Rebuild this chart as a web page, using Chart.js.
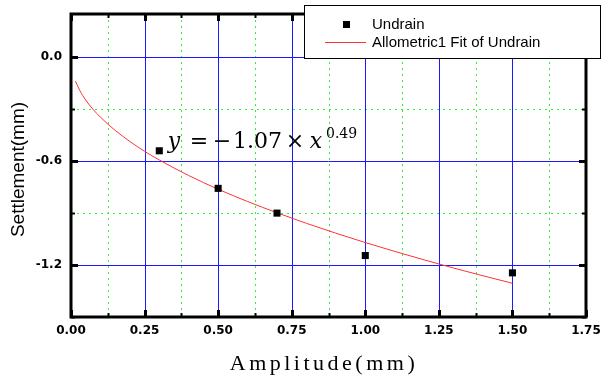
<!DOCTYPE html>
<html>
<head>
<meta charset="utf-8">
<script src="https://cdn.jsdelivr.net/npm/chart.js@4/dist/chart.umd.min.js"></script>
<style>
  html, body { margin: 0; padding: 0; background: #fff; }
  #wrap { position: relative; width: 601px; height: 376px; }
</style>
</head>
<body>
<div id="wrap"><canvas id="settlementChart" width="601" height="376"></canvas></div>
<script>
// measured points
const amplitude = [0.3, 0.5, 0.7, 1.0, 1.5];
const settlement = [-0.54, -0.757, -0.90, -1.145, -1.245];

// allometric fit curve y = -1.07 * x^0.49
const fitX = [0.015, 0.03, 0.05, 0.075, 0.1, 0.15, 0.2, 0.25, 0.3, 0.4, 0.5, 0.6, 0.7, 0.8, 0.9, 1.0, 1.1, 1.2, 1.3, 1.4, 1.5];
const fitY = [-0.137, -0.192, -0.247, -0.301, -0.346, -0.422, -0.486, -0.543, -0.593, -0.683, -0.762, -0.833, -0.898, -0.959, -1.016, -1.07, -1.121, -1.170, -1.217, -1.262, -1.305];

// axis ticks (minor + major)
const xTicks = [0, 0.125, 0.25, 0.375, 0.5, 0.625, 0.75, 0.875, 1.0, 1.125, 1.25, 1.375, 1.5, 1.625, 1.75];
const xMajor = [0, 0.25, 0.5, 0.75, 1.0, 1.25, 1.5, 1.75];
const yTicks = [-1.5, -1.2, -0.9, -0.6, -0.3, 0];
const yMajor = [-1.2, -0.6, 0];

const seriesNames = ["Undrain", "Allometric1 Fit of Undrain"];

const isMajor = (list, v) => list.some(m => Math.abs(m - v) < 1e-9);

const frameAndGrid = {
  id: "frameAndGrid",
  beforeDatasetsDraw(chart) {
    const { ctx, chartArea: a, scales: { x, y } } = chart;
    ctx.save();
    ctx.lineWidth = 1;
    // minor grid: green dotted
    ctx.strokeStyle = "#33ee33";
    ctx.setLineDash([2, 4]);
    xTicks.forEach(v => {
      if (isMajor(xMajor, v)) return;
      const px = Math.round(x.getPixelForValue(v)) + 0.5;
      ctx.beginPath(); ctx.moveTo(px, a.top); ctx.lineTo(px, a.bottom); ctx.stroke();
    });
    yTicks.forEach(v => {
      if (isMajor(yMajor, v) || v === -1.5) return;
      const py = Math.round(y.getPixelForValue(v)) + 0.5;
      ctx.beginPath(); ctx.moveTo(a.left, py); ctx.lineTo(a.right, py); ctx.stroke();
    });
    // major grid: blue
    ctx.setLineDash([]);
    ctx.strokeStyle = "#1a1aff";
    xMajor.forEach(v => {
      if (v === 0 || v === 1.75) return;
      const px = Math.round(x.getPixelForValue(v)) + 0.5;
      ctx.beginPath(); ctx.moveTo(px, a.top); ctx.lineTo(px, a.bottom); ctx.stroke();
    });
    yMajor.forEach(v => {
      const py = Math.round(y.getPixelForValue(v)) + 0.5;
      ctx.beginPath(); ctx.moveTo(a.left, py); ctx.lineTo(a.right, py); ctx.stroke();
    });
    ctx.restore();
  },
  afterDatasetsDraw(chart) {
    const { ctx, chartArea: a, scales: { x, y } } = chart;
    ctx.save();
    ctx.strokeStyle = "#000";
    // inward ticks on all four sides
    xTicks.forEach(v => {
      const px = Math.round(x.getPixelForValue(v)) + 0.5;
      const major = isMajor(xMajor, v);
      const len = major ? 7 : 4;
      ctx.lineWidth = major ? 3 : 2;
      ctx.beginPath(); ctx.moveTo(px, a.bottom); ctx.lineTo(px, a.bottom - len); ctx.stroke();
      ctx.beginPath(); ctx.moveTo(px, a.top); ctx.lineTo(px, a.top + len); ctx.stroke();
    });
    yTicks.forEach(v => {
      const py = Math.round(y.getPixelForValue(v)) + 0.5;
      const major = isMajor(yMajor, v);
      const len = major ? 7 : 4;
      ctx.lineWidth = major ? 3 : 2;
      ctx.beginPath(); ctx.moveTo(a.left, py); ctx.lineTo(a.left + len, py); ctx.stroke();
      ctx.beginPath(); ctx.moveTo(a.right, py); ctx.lineTo(a.right - len, py); ctx.stroke();
    });
    // frame
    ctx.lineWidth = 3;
    ctx.strokeRect(a.left, a.top, a.right - a.left, a.bottom - a.top);
    ctx.restore();
  },
  afterDraw(chart) {
    const { ctx, chartArea: a } = chart;
    ctx.save();

    // equation label, each glyph centred on its own spot
    ctx.fillStyle = "#000";
    ctx.textBaseline = "alphabetic";
    ctx.textAlign = "center";
    const base = 148;
    const serif = "'DejaVu Serif', serif";
    ctx.font = "italic 22px " + serif;
    ctx.fillText("y", 174, base);
    ctx.font = "22px " + serif;
    ctx.fillText("=", 199, base);
    ctx.fillText("\u2212", 222, base);
    ctx.textAlign = "left";
    ctx.fillText("1.07", 233, base);
    ctx.textAlign = "center";
    ctx.fillText("\u00d7", 295, base);
    ctx.font = "italic 22px " + serif;
    ctx.fillText("x", 316, base);
    ctx.textAlign = "left";
    ctx.font = "14px " + serif;
    ctx.fillText("0.49", 326, 138);

    // legend box
    const lx = 304.5, ly = 5.5, lw = 296, lh = 53;
    ctx.fillStyle = "#fff";
    ctx.fillRect(lx, ly, lw, lh);
    ctx.strokeStyle = "#000";
    ctx.lineWidth = 1;
    ctx.strokeRect(lx, ly, lw, lh);
    ctx.fillStyle = "#000";
    ctx.fillRect(343, 21, 7, 7);
    ctx.strokeStyle = "#ff3333";
    ctx.beginPath(); ctx.moveTo(325, 42.5); ctx.lineTo(366, 42.5); ctx.stroke();
    ctx.fillStyle = "#000";
    ctx.font = "15px 'Liberation Sans', Arial, sans-serif";
    ctx.fillText(seriesNames[0], 372, 29);
    ctx.fillText(seriesNames[1], 372, 47);

    // axis titles
    ctx.font = "19px 'Liberation Sans', Arial, sans-serif";
    ctx.translate(24, (a.top + a.bottom) / 2 + 4);
    ctx.rotate(-Math.PI / 2);
    ctx.textAlign = "center";
    ctx.fillText("Settlement(mm)", 0, 0);
    ctx.setTransform(1, 0, 0, 1, 0, 0);
    ctx.font = "22px 'Liberation Serif', serif";
    ctx.letterSpacing = "3.5px";
    ctx.textAlign = "center";
    ctx.fillText("Amplitude(mm)", 324, 370);
    ctx.restore();
  }
};

new Chart(document.getElementById("settlementChart"), {
  type: "scatter",
  data: {
    datasets: [
      {
        label: seriesNames[0],
        data: amplitude.map((v, i) => ({ x: v, y: settlement[i] })),
        pointStyle: "rect",
        pointRadius: 5,
        backgroundColor: "#000",
        borderColor: "#000",
        borderWidth: 0,
        showLine: false,
        order: 0
      },
      {
        label: seriesNames[1],
        data: fitX.map((v, i) => ({ x: v, y: fitY[i] })),
        showLine: true,
        pointRadius: 0,
        borderColor: "#ff3333",
        borderWidth: 1,
        cubicInterpolationMode: "monotone",
        order: 1
      }
    ]
  },
  options: {
    responsive: false,
    animation: false,
    devicePixelRatio: 1,
    layout: { padding: { left: 0, top: 14, right: 15, bottom: 0 } },
    plugins: { legend: { display: false }, tooltip: { enabled: false } },
    scales: {
      x: {
        type: "linear",
        min: 0,
        max: 1.75,
        grid: { display: false, drawTicks: false },
        border: { display: false },
        afterBuildTicks: s => { s.ticks = xTicks.map(v => ({ value: v })); },
        afterFit: s => { s.height = 59; s.paddingLeft = 0; s.paddingRight = 0; },
        ticks: {
          autoSkip: false,
          maxRotation: 0,
          padding: 7,
          color: "#000",
          font: { family: "'DejaVu Sans', sans-serif", size: 12, weight: "bold" },
          callback: v => isMajor(xMajor, v) ? v.toFixed(2) : ""
        }
      },
      y: {
        type: "linear",
        min: -1.5,
        max: 0.25,
        grid: { display: false, drawTicks: false },
        border: { display: false },
        afterBuildTicks: s => { s.ticks = yTicks.map(v => ({ value: v })); },
        afterFit: s => { s.width = 71; s.paddingTop = 0; s.paddingBottom = 0; },
        ticks: {
          autoSkip: false,
          padding: 9,
          color: "#000",
          font: { family: "'DejaVu Sans', sans-serif", size: 12, weight: "bold" },
          callback: v => isMajor(yMajor, v) ? v.toFixed(1) : ""
        }
      }
    }
  },
  plugins: [frameAndGrid]
});
</script>
</body>
</html>
